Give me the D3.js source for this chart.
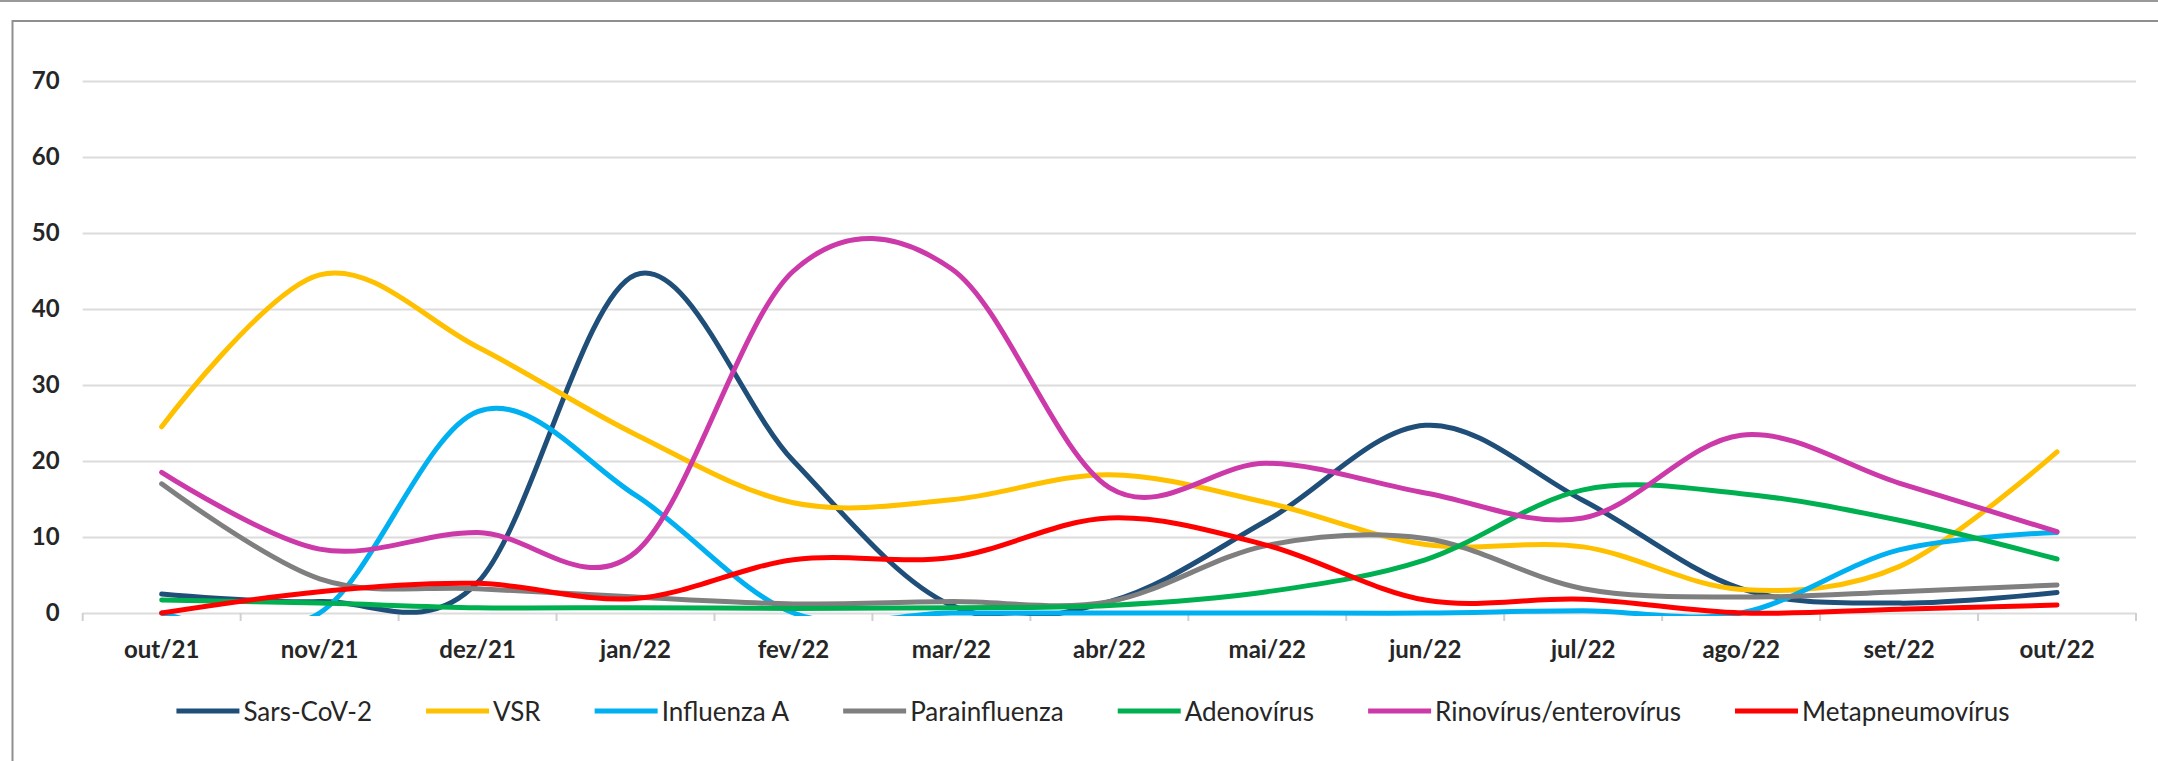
<!DOCTYPE html>
<html>
<head>
<meta charset="utf-8">
<script src="https://cdn.jsdelivr.net/npm/d3@7"></script>
<style>
  html, body { margin: 0; padding: 0; background: #fff; }
  svg { display: block; }
</style>
</head>
<body>
<svg id="chart" width="2158" height="761"></svg>
<script>
// ---- data ----
const categories = ["out/21","nov/21","dez/21","jan/22","fev/22","mar/22","abr/22","mai/22","jun/22","jul/22","ago/22","set/22","out/22"];
const yTickValues = [0,10,20,30,40,50,60,70];
const seriesNames = ["Sars-CoV-2","VSR","Influenza A","Parainfluenza","Adenovírus","Rinovírus/enterovírus","Metapneumovírus"];
const sarsCoV2 =        [2.5, 1.5, 4,   44.5, 20,  1,    1.5,  12.2, 24.7, 14.8, 3.2, 1.3, 2.7];
const vsr =             [24.5,44.5,35,  23.5, 14.5,14.9, 18.2, 14.5, 9,    8.7,  3.1, 6.1, 21.2];
const influenzaA =      [0,   0,   26.5,15.5, 0,   0,    0,    0,    0,    0.3,  0,   8.3, 10.6];
const parainfluenza =   [17,  4.5, 3.2, 2.1,  1.2, 1.5,  1.5,  8.9,  9.8,  3.2,  2.1, 2.8, 3.7];
const adenovirus =      [1.7, 1.3, 0.7, 0.7,  0.6, 0.7,  1.0,  2.8,  7,    16.2, 15.7,12.2,7.1];
const rinovirus =       [18.5,8.4, 10.6,8,    45,  45.3, 16.5, 19.7, 15.8, 12.5, 23.4,17.1,10.7];
const metapneumovirus = [0,   2.8, 3.9, 1.9,  7,   7.3,  12.5, 8.9,  1.7,  1.8,  0,   0.5, 1.05];
const seriesValues = [sarsCoV2, vsr, influenzaA, parainfluenza, adenovirus, rinovirus, metapneumovirus];
const seriesColors = ["#1F4E79","#FFC000","#00B0F0","#7F7F7F","#00B050","#CC39A9","#FF0000"];

// ---- layout ----
const svg = d3.select("#chart");
const plotLeft = 82.7, plotRight = 2136, plotTop = 81, plotBottom = 613;
const font = "Lato, 'Open Sans', sans-serif";
const textColor = "#262626";

// outer decorations
svg.append("rect").attr("x", 0).attr("y", 0).attr("width", 2158).attr("height", 2).attr("fill", "#999");
svg.append("rect").attr("x", 12.5).attr("y", 21).attr("width", 2200).attr("height", 800)
  .attr("fill", "none").attr("stroke", "#8f8f8f").attr("stroke-width", 2);

const x = d3.scaleBand().domain(categories).range([plotLeft, plotRight]).paddingInner(0).paddingOuter(0);
const y = d3.scaleLinear().domain([0, 70]).range([plotBottom, plotTop]);
const cx = d => x(d) + x.bandwidth() / 2;

// gridlines
const grid = svg.append("g").attr("transform", `translate(${plotLeft},0)`)
  .call(d3.axisLeft(y).tickValues(yTickValues).tickSize(-(plotRight - plotLeft)).tickFormat(""));
grid.select(".domain").remove();
grid.selectAll(".tick line").attr("stroke", "#DCDCDC").attr("stroke-width", 2);

// y labels
const yAxis = svg.append("g").attr("transform", `translate(${plotLeft},0)`)
  .call(d3.axisLeft(y).tickValues(yTickValues).tickSize(0).tickPadding(23).tickFormat(d3.format("d")));
yAxis.select(".domain").remove();
yAxis.selectAll("text").attr("font-family", font).attr("font-weight", "bold")
  .attr("font-size", 24).attr("fill", textColor);

// x axis ticks at band boundaries
const boundaries = categories.map(c => x(c)).concat([plotRight]);
svg.append("g").selectAll("line").data(boundaries).join("line")
  .attr("x1", d => d).attr("x2", d => d).attr("y1", plotBottom).attr("y2", plotBottom + 8)
  .attr("stroke", "#D0D0D0").attr("stroke-width", 2);

// x labels
const xAxis = svg.append("g").attr("transform", `translate(0,${plotBottom})`)
  .call(d3.axisBottom(x).tickSize(0).tickPadding(0));
xAxis.select(".domain").remove();
xAxis.selectAll("text").attr("y", 45).attr("dy", "0").attr("font-family", font)
  .attr("font-weight", "bold").attr("font-size", 24).attr("fill", textColor);

// clip
svg.append("defs").append("clipPath").attr("id", "plotclip")
  .append("rect").attr("x", 0).attr("y", plotTop - 10).attr("width", 2158).attr("height", plotBottom - plotTop + 13);

// lines
const line = d3.line()
  .x((d, i) => cx(categories[i]))
  .y(d => y(d))
  .curve(d3.curveCardinal.tension(0));

svg.append("g").attr("clip-path", "url(#plotclip)")
  .selectAll("path").data(seriesValues).join("path")
  .attr("d", d => line(d))
  .attr("fill", "none")
  .attr("stroke", (d, i) => seriesColors[i])
  .attr("stroke-width", 5)
  .attr("stroke-linejoin", "round")
  .attr("stroke-linecap", "round");

// legend
const legendY = 711, lineLen = 63, textGap = 4, itemGap = 54, legendCenter = 1093;
const legend = svg.append("g");
const items = legend.selectAll("g").data(seriesNames).join("g");
items.append("line").attr("x1", 0).attr("x2", lineLen).attr("y1", legendY).attr("y2", legendY)
  .attr("stroke", (d, i) => seriesColors[i]).attr("stroke-width", 5);
items.append("text").attr("x", lineLen + textGap).attr("y", legendY + 10)
  .attr("font-family", font).attr("font-size", 26).attr("fill", textColor).text(d => d);
let offset = 0;
const offsets = [];
items.each(function () {
  offsets.push(offset);
  const w = d3.select(this).select("text").node().getComputedTextLength();
  offset += lineLen + textGap + w + itemGap;
});
const total = offset - itemGap;
const startX = legendCenter - total / 2;
items.attr("transform", (d, i) => `translate(${startX + offsets[i]},0)`);
</script>
</body>
</html>
